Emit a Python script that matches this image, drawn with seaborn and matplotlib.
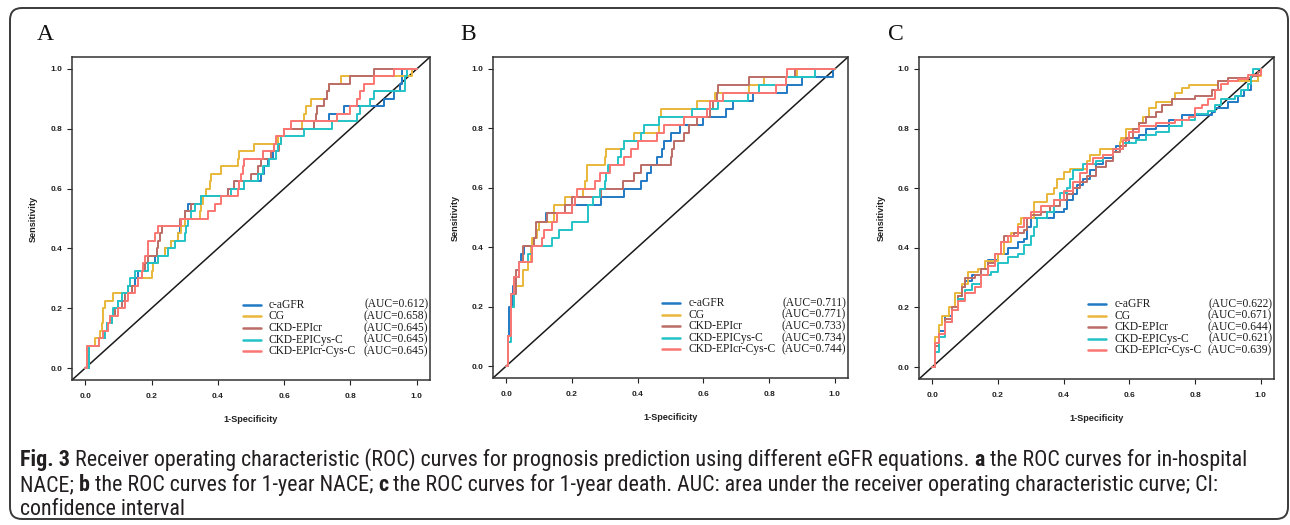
import numpy as np
import pandas as pd
import seaborn as sns
import matplotlib.pyplot as plt
from matplotlib import font_manager
from matplotlib.lines import Line2D
from matplotlib.patches import FancyBboxPatch

W, H = 1290, 525

# ----------------------------
# Data
# ----------------------------
METHODS = ["c-aGFR", "CG", "CKD-EPIcr", "CKD-EPICys-C", "CKD-EPIcr-Cys-C"]
COLORS = ["#2079c4", "#e9b73a", "#bc6c66", "#22c3c6", "#fb7672"]

AUC_A = ["0.612", "0.658", "0.645", "0.645", "0.645"]
AUC_B = ["0.711", "0.771", "0.733", "0.734", "0.744"]
AUC_C = ["0.622", "0.671", "0.644", "0.621", "0.639"]

# (1-specificity, sensitivity) at each step of the ROC curves
A_CAGFR = [(0, 0), (0.01, 0.075), (0.04, 0.1), (0.06, 0.125), (0.065, 0.15), (0.08, 0.175), (0.09, 0.2),
           (0.1, 0.225), (0.12, 0.25), (0.13, 0.275), (0.15, 0.3), (0.16, 0.325), (0.18, 0.35), (0.21, 0.375),
           (0.24, 0.4), (0.26, 0.425), (0.28, 0.45), (0.285, 0.475), (0.29, 0.5), (0.3, 0.525), (0.31, 0.55),
           (0.35, 0.575), (0.43, 0.6), (0.48, 0.625), (0.53, 0.65), (0.54, 0.675), (0.55, 0.7), (0.565, 0.725),
           (0.57, 0.75), (0.58, 0.775), (0.6, 0.8), (0.69, 0.825), (0.735, 0.85), (0.78, 0.875), (0.9, 0.9),
           (0.93, 0.925), (0.95, 0.95), (0.955, 0.975), (0.955, 1.0), (1, 1)]
A_CG = [(0, 0), (0.005, 0.075), (0.03, 0.1), (0.045, 0.125), (0.05, 0.15), (0.055, 0.2), (0.06, 0.225),
        (0.085, 0.25), (0.14, 0.275), (0.16, 0.3), (0.2, 0.325), (0.205, 0.35), (0.22, 0.375), (0.24, 0.4),
        (0.26, 0.425), (0.28, 0.45), (0.29, 0.475), (0.3, 0.5), (0.345, 0.525), (0.35, 0.55), (0.355, 0.575),
        (0.365, 0.6), (0.375, 0.625), (0.38, 0.65), (0.41, 0.675), (0.46, 0.7), (0.465, 0.725), (0.51, 0.75),
        (0.58, 0.775), (0.6, 0.8), (0.655, 0.825), (0.66, 0.85), (0.665, 0.875), (0.68, 0.9), (0.73, 0.925),
        (0.735, 0.95), (0.77, 0.975), (0.985, 1.0), (1, 1)]
A_CKDCR = [(0, 0), (0.01, 0.075), (0.04, 0.1), (0.06, 0.125), (0.07, 0.15), (0.075, 0.175), (0.09, 0.2),
           (0.11, 0.225), (0.12, 0.25), (0.14, 0.275), (0.16, 0.3), (0.17, 0.325), (0.18, 0.35), (0.19, 0.375),
           (0.215, 0.4), (0.22, 0.425), (0.225, 0.45), (0.23, 0.475), (0.285, 0.5), (0.3, 0.525), (0.32, 0.55),
           (0.35, 0.575), (0.43, 0.6), (0.45, 0.625), (0.5, 0.65), (0.52, 0.675), (0.53, 0.7), (0.56, 0.725),
           (0.585, 0.75), (0.59, 0.775), (0.6, 0.8), (0.69, 0.825), (0.695, 0.85), (0.7, 0.875), (0.72, 0.9),
           (0.73, 0.925), (0.735, 0.95), (0.8, 0.975), (0.87, 1.0), (1, 1)]
A_CYS = [(0, 0), (0.01, 0.075), (0.04, 0.1), (0.06, 0.125), (0.065, 0.15), (0.08, 0.175), (0.085, 0.2),
         (0.1, 0.225), (0.11, 0.25), (0.13, 0.275), (0.135, 0.3), (0.15, 0.325), (0.19, 0.35), (0.22, 0.375),
         (0.25, 0.4), (0.27, 0.425), (0.3, 0.45), (0.305, 0.475), (0.31, 0.5), (0.32, 0.525), (0.33, 0.55),
         (0.35, 0.575), (0.44, 0.6), (0.48, 0.625), (0.52, 0.65), (0.535, 0.675), (0.555, 0.7), (0.575, 0.725),
         (0.58, 0.75), (0.59, 0.775), (0.66, 0.8), (0.745, 0.825), (0.82, 0.85), (0.83, 0.875), (0.86, 0.9),
         (0.87, 0.925), (0.965, 0.95), (0.965, 0.975), (0.97, 1.0), (1, 1)]
A_CRCYS = [(0, 0), (0.005, 0.075), (0.04, 0.1), (0.055, 0.125), (0.07, 0.15), (0.075, 0.175), (0.1, 0.2),
           (0.12, 0.225), (0.13, 0.25), (0.15, 0.275), (0.16, 0.3), (0.17, 0.325), (0.175, 0.35), (0.18, 0.375),
           (0.19, 0.4), (0.19, 0.425), (0.21, 0.45), (0.22, 0.475), (0.29, 0.5), (0.37, 0.525), (0.39, 0.55),
           (0.41, 0.575), (0.46, 0.6), (0.465, 0.625), (0.47, 0.65), (0.475, 0.675), (0.48, 0.7), (0.535, 0.725),
           (0.57, 0.75), (0.575, 0.775), (0.6, 0.8), (0.62, 0.825), (0.76, 0.85), (0.8, 0.875), (0.82, 0.9),
           (0.83, 0.925), (0.84, 0.95), (0.87, 0.975), (0.93, 1.0), (1, 1)]

B_CAGFR = [(0, 0), (0.005, 0.1), (0.01, 0.2), (0.02, 0.27), (0.03, 0.3), (0.04, 0.351), (0.045, 0.378),
           (0.055, 0.405), (0.085, 0.432), (0.09, 0.459), (0.1, 0.486), (0.12, 0.514), (0.2, 0.541),
           (0.29, 0.568), (0.36, 0.595), (0.41, 0.622), (0.43, 0.649), (0.44, 0.676), (0.46, 0.703),
           (0.475, 0.73), (0.48, 0.757), (0.5, 0.784), (0.53, 0.811), (0.6, 0.838), (0.67, 0.865),
           (0.69, 0.892), (0.75, 0.919), (0.855, 0.946), (0.9, 0.973), (0.995, 1.0), (1, 1)]
B_CG = [(0, 0), (0.005, 0.1), (0.015, 0.2), (0.025, 0.27), (0.05, 0.324), (0.065, 0.351), (0.075, 0.405),
        (0.08, 0.432), (0.095, 0.459), (0.1, 0.486), (0.145, 0.541), (0.18, 0.568), (0.235, 0.595),
        (0.24, 0.622), (0.245, 0.676), (0.3, 0.703), (0.305, 0.73), (0.36, 0.757), (0.39, 0.784),
        (0.465, 0.838), (0.47, 0.865), (0.58, 0.892), (0.635, 0.919), (0.74, 0.946), (0.785, 0.973),
        (0.885, 1.0), (1, 1)]
B_CKDCR = [(0, 0), (0.005, 0.1), (0.015, 0.243), (0.03, 0.324), (0.04, 0.351), (0.05, 0.405), (0.085, 0.432),
           (0.09, 0.486), (0.125, 0.514), (0.18, 0.541), (0.2, 0.568), (0.29, 0.595), (0.355, 0.622),
           (0.39, 0.649), (0.41, 0.676), (0.5, 0.703), (0.505, 0.73), (0.51, 0.757), (0.54, 0.784),
           (0.555, 0.811), (0.58, 0.838), (0.62, 0.865), (0.63, 0.892), (0.64, 0.919), (0.645, 0.946),
           (0.74, 0.973), (0.88, 1.0), (1, 1)]
B_CYS = [(0, 0), (0.005, 0.08), (0.015, 0.2), (0.025, 0.3), (0.04, 0.351), (0.065, 0.378), (0.08, 0.405),
         (0.14, 0.432), (0.16, 0.459), (0.2, 0.486), (0.25, 0.541), (0.265, 0.568), (0.285, 0.595),
         (0.3, 0.622), (0.305, 0.649), (0.31, 0.676), (0.34, 0.703), (0.35, 0.73), (0.36, 0.757),
         (0.41, 0.784), (0.42, 0.811), (0.465, 0.838), (0.565, 0.865), (0.645, 0.892), (0.735, 0.919),
         (0.77, 0.946), (0.85, 0.973), (0.94, 1.0), (1, 1)]
B_CRCYS = [(0, 0), (0.005, 0.1), (0.015, 0.243), (0.025, 0.3), (0.04, 0.351), (0.08, 0.405), (0.11, 0.432),
           (0.115, 0.459), (0.14, 0.486), (0.155, 0.514), (0.2, 0.541), (0.21, 0.568), (0.215, 0.595),
           (0.27, 0.622), (0.285, 0.649), (0.315, 0.676), (0.36, 0.703), (0.38, 0.73), (0.4, 0.757),
           (0.46, 0.784), (0.48, 0.811), (0.54, 0.838), (0.61, 0.865), (0.62, 0.892), (0.66, 0.919),
           (0.82, 0.946), (0.85, 0.973), (0.855, 1.0), (1, 1)]

C_CAGFR = [(0, 0), (0.01, 0.08), (0.02, 0.12), (0.04, 0.17), (0.06, 0.2), (0.08, 0.24), (0.09, 0.27),
           (0.1, 0.29), (0.12, 0.31), (0.15, 0.33), (0.17, 0.36), (0.2, 0.38), (0.23, 0.4), (0.26, 0.42),
           (0.28, 0.43), (0.29, 0.47), (0.3, 0.5), (0.37, 0.52), (0.4, 0.53), (0.41, 0.56), (0.43, 0.58),
           (0.44, 0.61), (0.46, 0.63), (0.48, 0.66), (0.5, 0.68), (0.52, 0.7), (0.55, 0.72), (0.56, 0.74),
           (0.58, 0.75), (0.6, 0.77), (0.63, 0.78), (0.65, 0.8), (0.68, 0.81), (0.72, 0.83), (0.76, 0.845),
           (0.85, 0.855), (0.86, 0.87), (0.9, 0.89), (0.93, 0.91), (0.95, 0.93), (0.97, 0.96), (0.99, 0.98),
           (1, 1)]
C_CG = [(0, 0), (0.01, 0.1), (0.02, 0.14), (0.03, 0.17), (0.05, 0.2), (0.07, 0.25), (0.09, 0.28),
        (0.11, 0.32), (0.14, 0.33), (0.16, 0.355), (0.2, 0.38), (0.22, 0.42), (0.24, 0.45), (0.26, 0.48),
        (0.27, 0.5), (0.31, 0.554), (0.35, 0.58), (0.37, 0.6), (0.38, 0.63), (0.4, 0.655), (0.42, 0.665),
        (0.47, 0.69), (0.48, 0.71), (0.51, 0.73), (0.57, 0.755), (0.575, 0.77), (0.59, 0.8), (0.63, 0.82),
        (0.64, 0.84), (0.66, 0.87), (0.68, 0.89), (0.73, 0.9), (0.74, 0.92), (0.76, 0.935), (0.78, 0.946),
        (0.87, 0.96), (0.99, 0.975), (1, 1)]
C_CKDCR = [(0, 0), (0.01, 0.07), (0.02, 0.11), (0.04, 0.16), (0.06, 0.2), (0.08, 0.24), (0.09, 0.27),
           (0.1, 0.3), (0.13, 0.31), (0.15, 0.33), (0.17, 0.35), (0.19, 0.38), (0.21, 0.42), (0.22, 0.44),
           (0.25, 0.45), (0.28, 0.46), (0.29, 0.5), (0.3, 0.51), (0.33, 0.52), (0.36, 0.54), (0.39, 0.56),
           (0.41, 0.58), (0.43, 0.6), (0.45, 0.62), (0.47, 0.64), (0.5, 0.67), (0.53, 0.69), (0.55, 0.72),
           (0.57, 0.74), (0.59, 0.77), (0.61, 0.8), (0.63, 0.82), (0.65, 0.84), (0.68, 0.855), (0.7, 0.88),
           (0.73, 0.9), (0.8, 0.91), (0.85, 0.93), (0.87, 0.96), (0.9, 0.97), (0.97, 0.975), (0.99, 0.99),
           (1, 1)]
C_CYS = [(0, 0), (0.01, 0.05), (0.02, 0.1), (0.04, 0.15), (0.06, 0.19), (0.08, 0.23), (0.1, 0.26),
         (0.12, 0.28), (0.15, 0.31), (0.18, 0.32), (0.2, 0.35), (0.23, 0.37), (0.26, 0.38), (0.28, 0.41),
         (0.3, 0.44), (0.31, 0.47), (0.32, 0.5), (0.35, 0.52), (0.37, 0.56), (0.39, 0.585), (0.41, 0.6),
         (0.42, 0.63), (0.43, 0.66), (0.46, 0.68), (0.5, 0.69), (0.52, 0.71), (0.55, 0.73), (0.58, 0.75),
         (0.62, 0.76), (0.65, 0.78), (0.68, 0.79), (0.72, 0.81), (0.76, 0.83), (0.8, 0.85), (0.84, 0.86),
         (0.86, 0.88), (0.88, 0.9), (0.92, 0.91), (0.94, 0.93), (0.96, 0.95), (0.97, 0.98), (0.975, 1.0),
         (1, 1)]
C_CRCYS = [(0, 0), (0.01, 0.08), (0.02, 0.11), (0.04, 0.15), (0.06, 0.19), (0.08, 0.22), (0.1, 0.25),
           (0.13, 0.27), (0.15, 0.31), (0.17, 0.34), (0.19, 0.38), (0.21, 0.42), (0.23, 0.44), (0.26, 0.47),
           (0.28, 0.5), (0.3, 0.52), (0.33, 0.54), (0.37, 0.56), (0.4, 0.59), (0.43, 0.62), (0.45, 0.65),
           (0.47, 0.68), (0.49, 0.7), (0.52, 0.71), (0.55, 0.73), (0.58, 0.76), (0.6, 0.79), (0.63, 0.81),
           (0.68, 0.82), (0.74, 0.83), (0.78, 0.84), (0.8, 0.87), (0.82, 0.88), (0.84, 0.9), (0.86, 0.93),
           (0.88, 0.95), (0.9, 0.96), (0.93, 0.965), (0.96, 0.98), (1, 1)]

TICKS = [0.0, 0.2, 0.4, 0.6, 0.8, 1.0]

CAPTION = [
    [("Fig. 3", True), (" Receiver operating characteristic (ROC) curves for prognosis prediction using "
                        "different eGFR equations. ", False), ("a", True),
     (" the ROC curves for in-hospital", False)],
    [("NACE; ", False), ("b", True), (" the ROC curves for 1-year NACE; ", False), ("c", True),
     (" the ROC curves for 1-year death. AUC: area under the receiver operating characteristic curve; CI:",
      False)],
    [("confidence interval", False)],
]

# ----------------------------
# Style
# ----------------------------
sns.set_theme(style="ticks")
fonts = font_manager.fontManager.ttflist
names = {f.name for f in fonts}
SANS = "Liberation Sans"
SERIF = "Liberation Serif"

# a narrow sans for the caption if one is installed
CAP_FONT, CAP_STRETCH = "Open Sans", "normal"
if "Liberation Sans Narrow" in names:
    CAP_FONT = "Liberation Sans Narrow"
elif "Roboto Condensed" in names:
    CAP_FONT = "Roboto Condensed"
elif any(f.name == "DejaVu Sans" and f.stretch == "condensed" for f in fonts):
    CAP_FONT, CAP_STRETCH = "DejaVu Sans", "condensed"
elif any(f.name == "Open Sans" and f.stretch in ("condensed", "semi-condensed") for f in fonts):
    CAP_STRETCH = "condensed"

plt.rcParams["font.family"] = [SANS, "DejaVu Sans"]

fig = plt.figure(figsize=(W / 100, H / 100), dpi=100)

# panel boxes in pixels: left, top, right, bottom ; letter x centre
panels = [
    ("A", [A_CAGFR, A_CG, A_CKDCR, A_CYS, A_CRCYS], AUC_A, (72, 57, 430, 380), 45),
    ("B", [B_CAGFR, B_CG, B_CKDCR, B_CYS, B_CRCYS], AUC_B, (493, 57, 848, 378), 468),
    ("C", [C_CAGFR, C_CG, C_CKDCR, C_CYS, C_CRCYS], AUC_C, (919, 57, 1274, 379), 896),
]
palette = dict(zip(METHODS, COLORS))

for letter, curves, aucs, (l, t, r, b), lx in panels:
    ax = fig.add_axes([l / W, 1 - b / H, (r - l) / W, (b - t) / H])

    frames = []
    for name, pts in zip(METHODS, curves):
        d = pd.DataFrame(pts, columns=["fpr", "tpr"])
        d["method"] = name
        frames.append(d)
    df = pd.concat(frames, ignore_index=True)

    ax.axline((0, 0), (1, 1), color="#1a1a1a", lw=1.1, zorder=1)
    sns.lineplot(data=df, x="fpr", y="tpr", hue="method", hue_order=METHODS, palette=palette,
                 estimator=None, sort=False, drawstyle="steps-post", linewidth=1.4,
                 legend=False, ax=ax, zorder=2)

    ax.set_xlim(-0.04, 1.04)
    ax.set_ylim(-0.04, 1.04)
    ax.set_xticks(TICKS)
    ax.set_yticks(TICKS)
    ax.set_xticklabels([f"{v:.1f}" for v in TICKS], fontweight="bold")
    ax.set_yticklabels([f"{v:.1f}" for v in TICKS], fontweight="bold")
    ax.tick_params(axis="both", labelsize=6, length=3.8, width=0.8, colors="#222222")
    ax.tick_params(axis="x", pad=5.5)
    ax.tick_params(axis="y", pad=3)
    for sp in ax.spines.values():
        sp.set_visible(True)
        sp.set_linewidth(1.1)
        sp.set_color("#333333")

    ax.set_xlabel("1-Specificity", fontsize=6.6, fontweight="bold", color="#222222")
    ax.set_ylabel("Sensitivity", fontsize=6.6, fontweight="bold", color="#222222")
    ax.xaxis.set_label_coords(0.5, -0.108)
    ax.yaxis.set_label_coords(-0.107, 0.5)
    ax.yaxis.label.set_verticalalignment("center")

    # legend (line, name, AUC column)
    for i, (name, col, auc) in enumerate(zip(METHODS, COLORS, aucs)):
        yy = 0.233 - i * 0.036
        ax.add_line(Line2D([0.477, 0.528], [yy, yy], transform=ax.transAxes, color=col, lw=1.8))
        ax.text(0.55, yy, name, transform=ax.transAxes, family=SERIF, fontsize=8.3,
                va="center", ha="left", color="#1a1a1a")
        ax.text(0.995, yy, f"(AUC={auc})", transform=ax.transAxes, family=SERIF, fontsize=8.3,
                va="center", ha="right", color="#1a1a1a")

    fig.text(lx / W, 1 - 34 / H, letter, family=SERIF, fontsize=17, ha="center", va="center",
             color="#111111")

# rounded frame around the figure
frame = FancyBboxPatch((10, 6), 1278, 511, boxstyle="round,pad=0,rounding_size=12",
                       transform=None, fill=False, lw=1.4, ec="#3a3a3a")
fig.add_artist(frame)

# caption with bold pieces
renderer = fig.canvas.get_renderer()


def cap_text(x, y, s, size, bold):
    return fig.text(x, y, s, family=CAP_FONT, fontstretch=CAP_STRETCH, fontsize=size,
                    fontweight="bold" if bold else "normal", va="baseline", ha="left", color="#231f20")


def text_width(s, size, bold):
    t1 = cap_text(0, 0, s + "|", size, bold)
    t2 = cap_text(0, 0, "|", size, bold)
    w = t1.get_window_extent(renderer).width - t2.get_window_extent(renderer).width
    t1.remove()
    t2.remove()
    return w


# fit the caption size so the first line spans the same width as in the reference
line1_w = sum(text_width(s, 10, bd) for s, bd in CAPTION[0])
cap_size = 10 * 1225 / line1_w

for row, baseline in zip(CAPTION, [466, 491, 515]):
    x = 20
    for s, bd in row:
        cap_text(x / W, 1 - baseline / H, s, cap_size, bd)
        x += text_width(s, cap_size, bd)

fig.savefig("out.png", dpi=100)
